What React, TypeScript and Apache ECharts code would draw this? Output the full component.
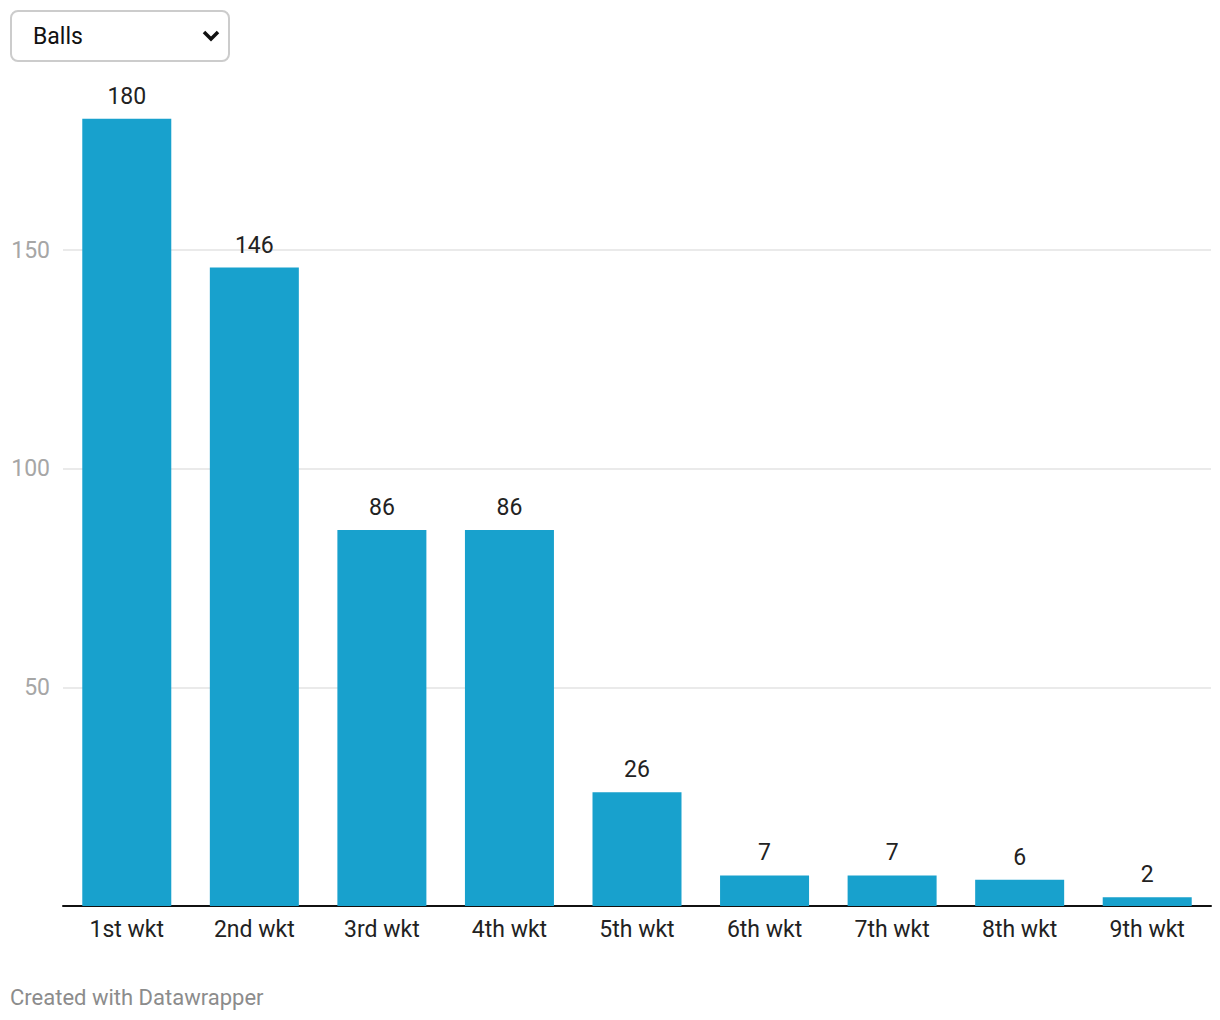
import React, { useEffect, useRef } from "react";
import * as echarts from "echarts";

const categories = ["1st wkt", "2nd wkt", "3rd wkt", "4th wkt", "5th wkt", "6th wkt", "7th wkt", "8th wkt", "9th wkt"];
const balls = [180, 146, 86, 86, 26, 7, 7, 6, 2];
const yTicks = [0, 50, 100, 150, 200];
const dropdownLabel = "Balls";
const footer = "Created with Datawrapper";

export default function App() {
  const ref = useRef<HTMLDivElement>(null);
  useEffect(() => {
    document.body.style.margin = "0";
    const chart = echarts.init(ref.current!, null, { renderer: "svg" });
    const font = "Roboto, 'Noto Sans', sans-serif";
    chart.setOption({
      animation: false,
      backgroundColor: "#ffffff",
      textStyle: { fontFamily: font },
      grid: { left: 63, right: 9, top: 31.4, bottom: 114, containLabel: false },
      xAxis: {
        type: "category",
        data: categories,
        axisLine: { show: true, lineStyle: { color: "#111", width: 2 } },
        axisTick: { show: false },
        axisLabel: { color: "#222", fontSize: 23, margin: 12, fontFamily: font },
      },
      yAxis: {
        type: "value",
        min: yTicks[0],
        max: yTicks[yTicks.length - 1],
        interval: 50,
        axisLine: { show: false },
        axisTick: { show: false },
        axisLabel: {
          color: "#a6a6a6",
          fontSize: 23,
          margin: 13,
          fontFamily: font,
          showMaxLabel: false,
          showMinLabel: false,
        },
        splitLine: {
          show: true,
          lineStyle: { color: ["transparent", "#e3e3e3", "#e3e3e3", "#e3e3e3", "transparent"], width: 1.5 },
        },
      },
      series: [
        {
          type: "bar",
          data: balls,
          barWidth: 89,
          itemStyle: { color: "#18a1cd" },
          label: {
            show: true,
            position: "top",
            distance: 11,
            color: "#222",
            fontSize: 23,
            fontFamily: font,
          },
        },
      ],
      graphic: [
        {
          type: "rect",
          shape: { x: 11, y: 11, width: 218, height: 50, r: 7 },
          style: { fill: "#fff", stroke: "#cccccc", lineWidth: 2 },
        },
        {
          type: "text",
          x: 33,
          y: 36,
          style: { text: dropdownLabel, fontSize: 23, fill: "#111", fontFamily: font, verticalAlign: "middle" },
        },
        {
          type: "polyline",
          shape: { points: [[204, 32], [211, 39], [218, 32]] },
          style: { stroke: "#111", lineWidth: 3.5, fill: "none" },
        },
        {
          type: "text",
          x: 10,
          y: 997,
          style: { text: footer, fontSize: 22, fill: "#8c8c8c", fontFamily: font, verticalAlign: "middle" },
        },
      ],
    });
    return () => chart.dispose();
  }, []);
  return <div ref={ref} style={{ position: "absolute", left: 0, top: 0, width: 1220, height: 1020 }} />;
}
